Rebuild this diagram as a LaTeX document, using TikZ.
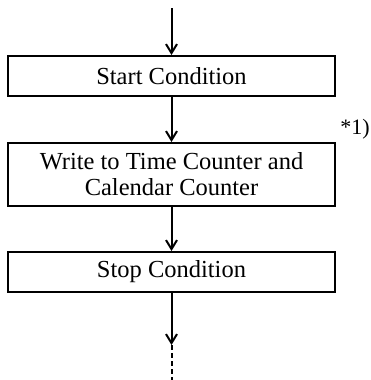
\documentclass[tikz,border=0pt]{standalone}
\usepackage{fontspec}
\setmainfont{Liberation Serif}
\usetikzlibrary{arrows.meta}
\begin{document}
\begin{tikzpicture}[x=1pt,y=-1pt,
  stepbox/.style={draw, line width=2pt, minimum width=327pt, inner sep=0pt, align=center, font=\fontsize{24.5}{26}\selectfont},
  flow/.style={line width=2pt, -{Straight Barb[length=9pt,width=11pt,line width=2pt]}},
  flowdash/.style={line width=2pt, dash pattern=on 5pt off 3pt}]
\useasboundingbox (0,0) rectangle (371,380);
\coordinate (top) at (171.5,8);
\node[stepbox, minimum height=40pt] (b1) at (171.5,76) {Start Condition};
\node[stepbox, minimum height=63pt] (b2) at (171.5,174.5) {Write to Time Counter and\\Calendar Counter};
\node[stepbox, minimum height=40pt] (b3) at (171.5,272) {Stop Condition};
\coordinate (tip) at (171.5,345);
\coordinate (bot) at (171.5,380);
\node[font=\fontsize{22}{24}\selectfont, inner sep=0pt] (note) at (355,129) {*1)};
\draw[flow] (top) -- (b1.north);
\draw[flow] (b1.south) -- (b2.north);
\draw[flow] (b2.south) -- (b3.north);
\draw[flow] (b3.south) -- (tip);
\draw[flowdash] (tip) -- (bot);
\end{tikzpicture}
\end{document}
